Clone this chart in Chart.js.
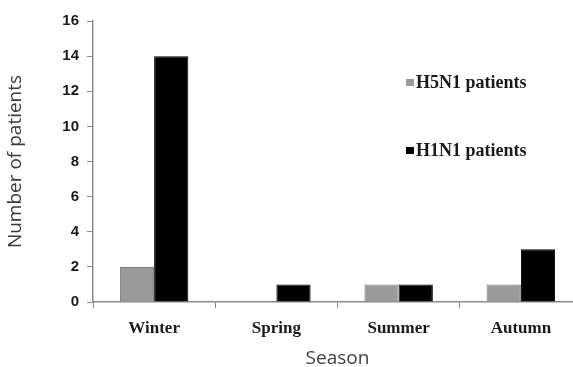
<!DOCTYPE html>
<html>
<head>
<meta charset="utf-8">
<script src="https://cdn.jsdelivr.net/npm/chart.js@4/dist/chart.umd.min.js"></script>
<style>
  html, body { margin: 0; padding: 0; background: #fff; overflow: hidden; }
  #wrap { width: 590px; height: 370px; }
</style>
</head>
<body>
<div id="wrap"><canvas id="chart" width="590" height="370"></canvas></div>
<script>
// data
const seasons = ['Winter', 'Spring', 'Summer', 'Autumn'];
const h5n1 = [2, 0, 1, 1];
const h1n1 = [14, 1, 1, 3];
const yTicks = [0, 2, 4, 6, 8, 10, 12, 14, 16];

// simple legend drawn inside the plot, right side
const sideLegend = {
    id: 'sideLegend',
    afterDraw(chart) {
        const ctx = chart.ctx;
        const rows = [82, 150];
        ctx.save();
        chart.data.datasets.forEach((ds, i) => {
            const y = rows[i];
            ctx.fillStyle = ds.backgroundColor;
            ctx.fillRect(406, y - 3, 8, 7);
            ctx.fillStyle = '#1a1a1a';
            ctx.font = 'bold 18px "Liberation Serif"';
            ctx.textBaseline = 'middle';
            ctx.fillText(ds.label, 416, y + 1);
        });
        ctx.restore();
    }
};

const ctx = document.getElementById('chart').getContext('2d');
new Chart(ctx, {
    type: 'bar',
    data: {
        labels: seasons,
        datasets: [
            { label: 'H5N1 patients', data: h5n1, backgroundColor: '#9a9a9a', borderColor: '#7a7a7a', borderWidth: 1 },
            { label: 'H1N1 patients', data: h1n1, backgroundColor: '#000000', borderColor: '#000000', borderWidth: 1 }
        ]
    },
    options: {
        responsive: false,
        animation: false,
        layout: { padding: { top: 21, right: 8, left: 0, bottom: 0 } },
        datasets: { bar: { categoryPercentage: 0.56, barPercentage: 1 } },
        plugins: { legend: { display: false }, tooltip: { enabled: false } },
        scales: {
            x: {
                grid: { drawOnChartArea: false, tickLength: 6, color: '#8a8a8a' },
                border: { color: '#8a8a8a', width: 1.5 },
                ticks: { color: '#1a1a1a', font: { family: '"Liberation Serif"', size: 17, weight: 'bold' }, padding: 10 },
                title: { display: true, text: 'Season', color: '#404040', font: { family: '"Open Sans"', size: 19 }, padding: { top: 8, bottom: 0 } },
                afterFit(scale) { scale.height = 68; }
            },
            y: {
                min: 0, max: 16,
                afterBuildTicks(scale) { scale.ticks = yTicks.map(v => ({ value: v })); },
                grid: { drawOnChartArea: false, tickLength: 6, color: '#8a8a8a' },
                border: { color: '#8a8a8a', width: 1.5 },
                ticks: { color: '#1a1a1a', font: { family: '"Liberation Sans"', size: 15, weight: 'bold' }, padding: 8 },
                title: { display: true, text: 'Number of patients', color: '#3a3a3a', font: { family: '"Open Sans"', size: 19 }, padding: { bottom: 2 } },
                afterFit(scale) { scale.width = 93; }
            }
        }
    },
    plugins: [sideLegend]
});
</script>
</body>
</html>
